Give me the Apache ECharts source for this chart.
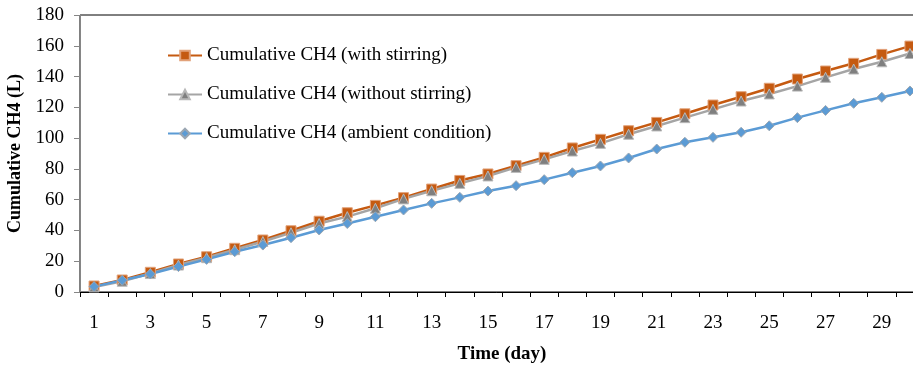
<!DOCTYPE html>
<html>
<head>
<meta charset="utf-8">
<script src="https://cdn.jsdelivr.net/npm/echarts@6/dist/echarts.min.js"></script>
<style>html,body{margin:0;padding:0;background:#fff}#c{width:913px;height:370px}</style>
</head>
<body>
<div id="c"></div>
<script>
const days = ["1","2","3","4","5","6","7","8","9","10","11","12","13","14","15","16","17","18","19","20","21","22","23","24","25","26","27","28","29","30"];
const withStirring = [3.9,7.8,12.8,18.2,22.9,28.4,33.8,39.8,46.0,51.5,56.3,61.3,66.9,72.5,76.7,82.1,87.5,93.6,99.2,104.8,110.2,115.8,121.5,126.9,132.4,138.4,143.6,148.6,154.4,159.8];
const withoutStirring = [3.3,7.0,12.0,17.5,22.3,27.5,32.8,38.5,44.5,49.0,54.4,60.5,65.8,70.6,75.4,81.0,86.2,91.6,96.6,102.5,107.9,113.3,118.7,124.1,128.7,133.8,139.5,144.9,149.6,155.0];
const ambient = [3.5,7.6,11.7,16.5,21.2,26.2,30.5,35.3,40.3,44.5,48.9,53.3,57.6,61.5,65.6,69.1,73.0,77.5,81.9,87.1,92.9,97.3,100.5,103.8,108.0,113.3,118.0,122.6,126.5,130.6];
const seriesNames = ["Cumulative CH4 (with stirring)","Cumulative CH4 (without stirring)","Cumulative CH4 (ambient condition)"];
const yTicks = {min:0, max:180, interval:20};

const font = "'Liberation Serif','Times New Roman',serif";
const chart = echarts.init(document.getElementById('c'));
chart.setOption({
  animation:false,
  grid:{left:80,right:-11,top:15,bottom:78,containLabel:false,outerBoundsMode:'none',show:true,borderColor:'#000',borderWidth:1,backgroundColor:'transparent'},
  legend:{
    orient:'vertical',left:162,top:41,itemWidth:34,itemHeight:12,itemGap:20,
    textStyle:{fontFamily:font,fontSize:19,color:'#000'},
    data:seriesNames
  },
  xAxis:{
    type:'category',data:days,boundaryGap:true,
    name:'Time (day)',nameLocation:'middle',nameGap:53,
    nameTextStyle:{fontFamily:font,fontSize:19,fontWeight:'bold',color:'#000'},
    axisLine:{lineStyle:{color:'#000',width:1}},
    axisTick:{show:true,interval:0,length:5,lineStyle:{color:'#000'}},
    axisLabel:{interval:1,margin:22,fontFamily:font,fontSize:19,color:'#000'},
    splitLine:{show:false}
  },
  yAxis:{
    type:'value',min:yTicks.min,max:yTicks.max,interval:yTicks.interval,
    name:'Cumulative CH4 (L)',nameLocation:'middle',nameGap:53,
    nameTextStyle:{fontFamily:font,fontSize:18,fontWeight:'bold',color:'#000'},
    axisLine:{show:true,lineStyle:{color:'#868686',width:1}},
    axisTick:{show:true,length:6,lineStyle:{color:'#868686'}},
    axisLabel:{margin:16,fontFamily:font,fontSize:19,color:'#000'},
    splitLine:{show:false}
  },
  series:[
    {name:seriesNames[0],type:'line',data:withStirring,symbol:'rect',symbolSize:10,
     lineStyle:{color:'#C55A11',width:2.5},itemStyle:{color:'#C55A11',borderColor:'#E2A27A',borderWidth:1}},
    {name:seriesNames[1],type:'line',data:withoutStirring,symbol:'triangle',symbolSize:10,
     lineStyle:{color:'#A5A5A5',width:2.5},itemStyle:{color:'#7F7F7F',borderColor:'#B8B8B8',borderWidth:1}},
    {name:seriesNames[2],type:'line',data:ambient,symbol:'diamond',symbolSize:10,
     lineStyle:{color:'#5B9BD5',width:2.5},itemStyle:{color:'#5B9BD5',borderColor:'#9AA6B2',borderWidth:1}}
  ]
});
</script>
</body>
</html>
